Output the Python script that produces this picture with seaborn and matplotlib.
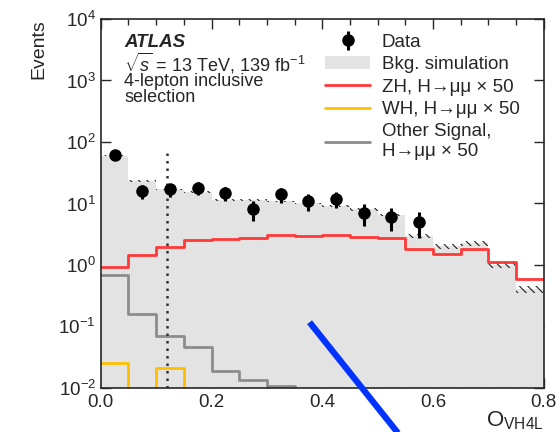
import numpy as np
import pandas as pd
import matplotlib
matplotlib.use("Agg")
import matplotlib.pyplot as plt
import seaborn as sns

# bins of O_VH4L
edges = np.linspace(0.0, 0.8, 17)
centers = 0.5 * (edges[:-1] + edges[1:])

bkg = [60, 23, 17, 15.5, 11.3, 11.3, 10.8, 10.0, 9.0, 8.0, 6.5, 3.0, 2.0, 2.25, 1.0, 0.4]
bkg_unc = [0.03, 0.03, 0.03, 0.03, 0.03, 0.03, 0.03, 0.03, 0.03, 0.04, 0.05, 0.08, 0.1, 0.1, 0.1, 0.12]
zh = [0.91, 1.45, 1.99, 2.58, 2.65, 2.77, 3.12, 3.0, 3.1, 2.85, 2.72, 1.8, 1.53, 1.84, 1.1, 0.6]
wh = [0.025, 0, 0.021, 0, 0, 0, 0, 0, 0, 0, 0, 0, 0, 0, 0, 0]
other = [0.68, 0.161, 0.0687, 0.046, 0.0192, 0.0137, 0.0106, 0, 0, 0, 0, 0, 0, 0, 0, 0]

data = [62, 16, 17, 18, 15, 8, 14, 11, 12, 7, 6, 5]
data_x = centers[:len(data)]

cut_x = 0.12
cut_top = 78

# stray pen stroke on the figure
stroke_x = [0.377, 0.555]
stroke_y = [0.117, 0.00115]

df = pd.DataFrame({"x": centers, "bkg": bkg, "zh": zh, "wh": wh, "other": other})
hist_kw = dict(binwidth=0.05, binrange=(0.0, 0.8), element="step")
hmm = "H→μμ × 50"

sns.set_theme(style="ticks")
plt.rcParams["font.family"] = ["Liberation Sans", "DejaVu Sans"]
plt.rcParams["mathtext.fontset"] = "custom"
plt.rcParams["mathtext.rm"] = "Liberation Sans"
plt.rcParams["mathtext.it"] = "Liberation Sans:italic"
plt.rcParams["hatch.linewidth"] = 0.8

fig = plt.figure(figsize=(5.6, 4.32), dpi=100)
ax = fig.add_axes([0.180, 0.102, 0.791, 0.854])
ax.set_yscale("log")

sns.histplot(data=df, x="x", weights="bkg", fill=True, color="#e3e3e3", alpha=1,
             linewidth=0, ax=ax, label="Bkg. simulation", **hist_kw)

lo = np.array(bkg) * (1 - np.array(bkg_unc))
hi = np.array(bkg) * (1 + np.array(bkg_unc))
ax.bar(centers, hi - lo, bottom=lo, width=0.05, fill=False, hatch="\\\\\\\\",
       edgecolor="#222222", linewidth=0)

sns.histplot(data=df, x="x", weights="zh", fill=False, color="#ff3838", linewidth=2,
             ax=ax, label="ZH, " + hmm, **hist_kw)
sns.histplot(data=df, x="x", weights="wh", fill=False, color="#ffbf00", linewidth=2,
             ax=ax, label="WH, " + hmm, **hist_kw)
sns.histplot(data=df, x="x", weights="other", fill=False, color="#8c8c8c", linewidth=2,
             ax=ax, label="Other Signal,\n" + hmm, **hist_kw)

ax.vlines(cut_x, 0.01, cut_top, colors="#333333", linestyles=(0, (1, 2)), linewidth=1.8)

ax.errorbar(data_x, data, yerr=np.sqrt(data), fmt="o", color="black", markersize=8,
            elinewidth=2.2, capsize=0, label="Data", zorder=5)

ax.plot(stroke_x, stroke_y, color="#0033ff", linewidth=4.5, solid_capstyle="butt",
        clip_on=False, zorder=10)

ax.set_xlim(0, 0.8)
ax.set_ylim(1e-2, 1e4)
ax.set_xticks([0.0, 0.2, 0.4, 0.6, 0.8])
ax.set_xticklabels(["0.0", "0.2", "0.4", "0.6", "0.8"])
ax.set_xticks(np.arange(0, 0.81, 0.05), minor=True)
ax.set_yticks([1e-2, 1e-1, 1e0, 1e1, 1e2, 1e3, 1e4])
ax.yaxis.set_minor_locator(matplotlib.ticker.NullLocator())
ax.tick_params(which="both", direction="in", top=True, right=True, labelsize=13.5, width=1)
ax.tick_params(which="major", length=7)
ax.tick_params(which="minor", length=4)
ax.tick_params(axis="x", pad=4.5)
for s in ax.spines.values():
    s.set_linewidth(1.2)

ax.set_xlabel(r"O$_{\mathrm{VH4L}}$", fontsize=16, ha="right", va="top")
ax.xaxis.set_label_coords(1.0, -0.058)
ax.set_ylabel("Events", fontsize=14, loc="top", labelpad=8)

ax.text(0.053, 0.937, "ATLAS", transform=ax.transAxes, fontsize=13.5,
        fontweight="bold", fontstyle="italic", va="center")
ax.text(0.053, 0.879, r"$\sqrt{s}$ = 13 TeV, 139 fb$^{-1}$", transform=ax.transAxes,
        fontsize=13, va="center")
ax.text(0.053, 0.808, "4-lepton inclusive\nselection", transform=ax.transAxes,
        fontsize=13, va="center", linespacing=0.9)

handles, labels = ax.get_legend_handles_labels()
order = [labels.index(l) for l in ["Data", "Bkg. simulation"]] + \
        [i for i, l in enumerate(labels) if l not in ("Data", "Bkg. simulation")]
ax.legend([handles[i] for i in order], [labels[i] for i in order],
          loc="upper left", bbox_to_anchor=(0.486, 0.985), frameon=False,
          fontsize=13.5, handlelength=2.4, handletextpad=0.6, labelspacing=0.28,
          borderpad=0)

fig.savefig("out.png", dpi=100)
